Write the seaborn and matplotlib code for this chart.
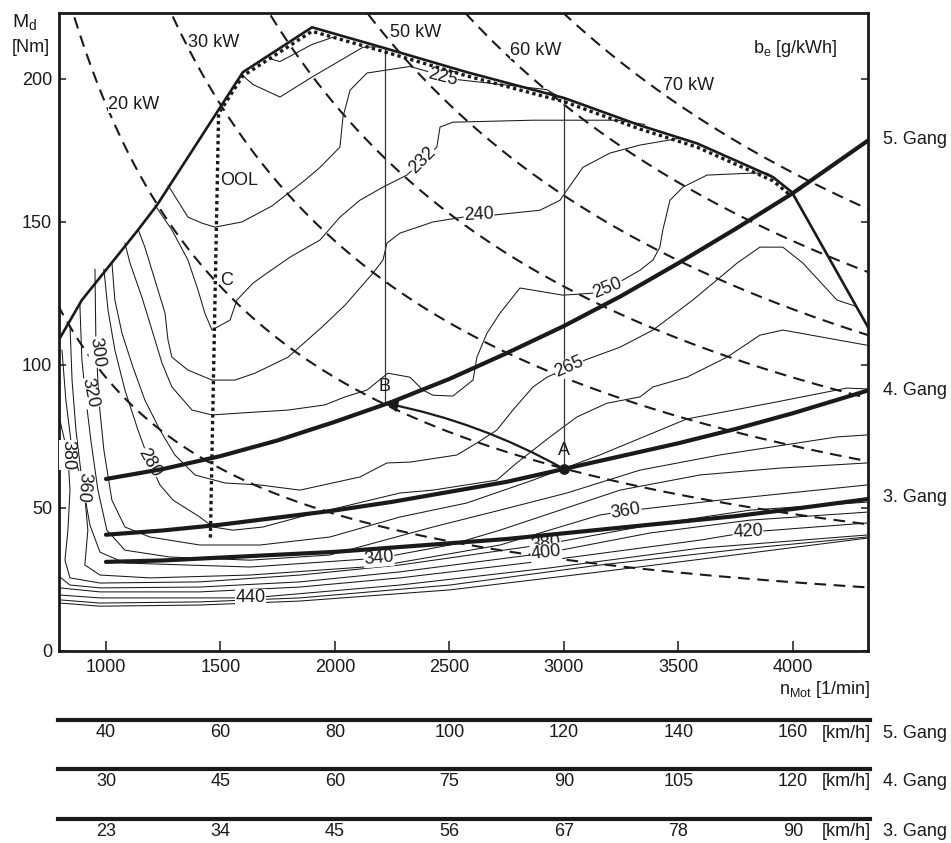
import numpy as np
import matplotlib
matplotlib.use("Agg")
import matplotlib.pyplot as plt
import seaborn as sns
from matplotlib.patches import FancyArrowPatch

sns.set_theme(style="white")
plt.rcParams['font.family'] = ['Liberation Sans', 'DejaVu Sans']
plt.rcParams['mathtext.fontset'] = 'custom'
plt.rcParams['mathtext.rm'] = 'Liberation Sans'
plt.rcParams['mathtext.it'] = 'Liberation Sans'
plt.rcParams['mathtext.bf'] = 'Liberation Sans'

# ---------------- data ----------------
rpm_ticks = [1000, 1500, 2000, 2500, 3000, 3500, 4000]
torque_ticks = [0, 50, 100, 150, 200]
power_kw = [10, 20, 30, 40, 50, 60, 70]
speed_5 = [40, 60, 80, 100, 120, 140, 160]
speed_4 = [30, 45, 60, 75, 90, 105, 120]
speed_3 = [23, 34, 45, 56, 67, 78, 90]

full_n = [799, 895, 1140, 1223, 1598, 1900, 2218, 2576, 3004, 3332, 3581, 3913, 3996, 4328]
full_M = [109.3, 122.6, 147.1, 155.8, 202.3, 218.0, 210.7, 202.3, 193.2, 183.7, 177.4, 165.6, 160.3, 113.1]

ool_n = [1456, 1492, 1598, 1900, 2218, 2576, 3004, 3332, 3581, 3913, 3985]
ool_M = [39.5, 187.8, 201.0, 216.6, 209.4, 201.0, 191.9, 182.4, 176.1, 164.3, 159.5]

gear_n = [1000, 1250, 1500, 1750, 2000, 2250, 2500, 2750, 3000, 3250, 3500, 3750, 4000, 4330]
gear5_M = [60.0, 63.5, 68.0, 73.5, 80.0, 87.0, 95.0, 104.0, 113.5, 124.0, 135.5, 147.5, 160.0, 178.5]
gear4_M = [40.5, 42.0, 44.0, 46.5, 49.0, 52.0, 55.5, 59.0, 63.5, 68.0, 72.5, 77.5, 83.0, 91.0]
gear3_M = [31.0, 31.5, 32.5, 33.5, 34.5, 36.0, 37.5, 39.0, 41.0, 43.0, 45.0, 47.0, 49.5, 53.0]

# operating points A (5th->4th gear) and B
point_A = (3000, 63.5)
point_B = (2218, 86.5)
vert_A_M = [63.5, 193.2]
vert_B_M = [86.5, 210.7]

# specific fuel consumption iso-lines b_e [g/kWh]
t1_n = [1716, 1760, 1900, 1991]
t1_M = [207.0, 206.0, 212.0, 214.5]
t2_n = [1598, 1642, 1760, 1900, 2122, 2196]
t2_M = [201.0, 198.0, 193.6, 200.6, 211.0, 211.2]
c225_n = [1271, 1358, 1419, 1476, 1594, 1725, 1869, 1935, 2022, 2035, 2066, 2140, 2328, 2524, 2926, 2983]
c225_M = [162.8, 151.6, 149.5, 148.1, 149.9, 155.5, 164.5, 169.0, 176.1, 186.6, 196.0, 202.0, 204.3, 199.8, 196.2, 193.5]
c232_n = [1214, 1288, 1358, 1402, 1432, 1463, 1542, 1572, 1642, 1703, 1804, 1935, 2022, 2109, 2210, 2314, 2445, 2459, 2515, 2865, 3232, 3354]
c232_M = [155.8, 147.1, 136.6, 126.1, 118.0, 112.1, 115.6, 122.6, 128.5, 132.0, 137.6, 143.6, 151.6, 157.5, 162.1, 166.3, 176.1, 183.1, 184.8, 185.5, 185.5, 184.0]
c240_n = [1140, 1170, 1214, 1258, 1271, 1288, 1358, 1463, 1563, 1651, 1795, 1943, 2044, 2166, 2210, 2227, 2284, 2428, 2559, 2690, 2895, 2983, 3013, 3083, 3201, 3332, 3507, 3594]
c240_M = [147.4, 141.1, 129.6, 118.0, 108.6, 102.6, 98.1, 94.6, 94.6, 97.0, 102.6, 113.1, 120.8, 132.0, 136.6, 142.5, 146.0, 149.9, 151.6, 152.3, 154.0, 157.5, 161.0, 169.0, 174.0, 176.8, 179.2, 177.0]
c250_n = [1083, 1105, 1157, 1201, 1245, 1288, 1376, 1463, 1594, 1795, 1956, 2044, 2140, 2231, 2328, 2384, 2428, 2515, 2603, 2620, 2664, 2721, 2808, 2996, 3127, 3258, 3332, 3389, 3419, 3432, 3463, 3520, 3625, 3825, 3887, 3922]
c250_M = [142.5, 135.5, 123.6, 112.1, 100.5, 92.2, 84.1, 82.4, 83.1, 84.1, 85.9, 88.7, 91.1, 97.0, 95.6, 91.1, 89.3, 89.0, 94.6, 102.6, 111.0, 118.0, 126.8, 124.3, 125.0, 129.6, 133.0, 136.6, 141.1, 147.1, 157.5, 162.1, 166.3, 167.0, 167.0, 165.2]
c265_n = [1026, 1039, 1070, 1118, 1170, 1236, 1301, 1389, 1520, 1673, 1847, 2109, 2227, 2328, 2533, 2620, 2707, 2777, 2865, 2926, 3092, 3245, 3389, 3563, 3756, 3856, 3956, 4044, 4192, 4271]
c265_M = [135.8, 122.6, 111.0, 99.1, 87.6, 77.1, 68.4, 61.4, 58.6, 57.9, 56.1, 60.7, 65.6, 65.9, 68.4, 72.6, 77.1, 84.1, 92.2, 95.6, 101.6, 106.1, 112.1, 122.6, 135.5, 141.1, 141.1, 135.5, 122.6, 120.5]
c280_n = [991, 1009, 1039, 1083, 1140, 1192, 1236, 1293, 1410, 1467, 1555, 1686, 1847, 2284, 2428, 2707, 2794, 2939, 3057, 3188, 3332, 3389, 3537, 3712, 3856, 3956, 4323]
c280_M = [133.4, 119.1, 105.1, 91.1, 77.1, 65.6, 57.9, 52.6, 46.7, 43.2, 42.1, 43.2, 46.7, 55.1, 56.1, 59.6, 65.6, 74.7, 81.7, 86.5, 88.7, 92.2, 95.6, 102.6, 110.3, 112.1, 106.8]
c300_n = [952, 956, 969, 991, 1026, 1083, 1192, 1410, 1673, 1978, 2284, 2576, 2865, 3157, 3537, 3900, 4236, 4323]
c300_M = [133.4, 108.6, 87.6, 70.1, 52.6, 43.2, 39.7, 36.9, 36.9, 39.7, 46.7, 51.6, 59.6, 68.4, 81.0, 86.5, 91.8, 91.5]
c320_n = [886, 895, 913, 934, 965, 1004, 1083, 1279, 1629, 1978, 2428, 2721, 3013, 3332, 3681, 4192, 4323]
c320_M = [121.2, 101.6, 87.6, 73.6, 56.1, 42.1, 35.1, 32.7, 31.6, 33.4, 43.2, 49.1, 55.1, 63.1, 68.4, 74.7, 75.4]
c340_n = [843, 852, 869, 895, 930, 974, 1083, 1629, 2192, 2502, 2721, 2983, 3245, 3594, 3943, 4323]
c340_M = [113.8, 94.6, 77.1, 59.6, 43.9, 34.4, 30.6, 29.2, 32.3, 36.9, 42.1, 49.1, 56.1, 61.4, 63.8, 65.6]
c360_n = [808, 825, 852, 904, 921, 908, 974, 1192, 1629, 2197, 2721, 3157, 3271, 3681, 4323]
c360_M = [105.1, 87.6, 70.1, 57.2, 42.1, 29.9, 26.4, 25.4, 26.4, 29.6, 36.9, 47.4, 48.8, 52.6, 57.9]
c380_n = [799, 834, 843, 834, 821, 843, 974, 1410, 1847, 2284, 2921, 3376, 3812, 4323]
c380_M = [80.6, 68.4, 56.1, 42.1, 31.6, 25.4, 23.6, 24.0, 26.4, 29.9, 37.2, 43.9, 49.1, 51.9]
c400_n = [799, 843, 974, 1410, 1847, 2284, 2921, 3376, 3812, 4323]
c400_M = [25.7, 22.9, 21.9, 22.2, 24.0, 27.5, 34.1, 41.1, 45.6, 48.4]
c420_n = [799, 974, 1410, 1847, 2284, 2939, 3594, 3804, 4323]
c420_M = [21.9, 20.5, 20.5, 22.2, 25.4, 31.6, 38.6, 41.4, 44.6]
c440_n = [799, 974, 1410, 1633, 2284, 2939, 3594, 4323]
c440_M = [19.4, 18.4, 18.4, 18.4, 22.9, 28.9, 35.8, 40.4]
c460_n = [799, 974, 1410, 1847, 2502, 3157, 3812, 4323]
c460_M = [17.7, 16.6, 17.0, 18.4, 22.9, 29.9, 35.8, 39.7]
c480_n = [799, 974, 1410, 1847, 2502, 3157, 3812, 4323]
c480_M = [16.6, 15.5, 15.9, 17.3, 21.2, 27.5, 34.1, 39.3]

# contour labels: text, n, M, rotation
label_text = ["225", "232", "240", "250", "265", "280", "300", "320", "340", "360", "360", "380", "380", "400", "420", "440"]
label_n = [2470, 2384, 2629, 3192, 3022, 1192, 961, 930, 2192, 3271, 904, 834, 2921, 2921, 3804, 1633]
label_M = [200.6, 171.5, 152.3, 126.8, 99.1, 65.6, 104.4, 90.1, 32.3, 48.8, 57.2, 68.4, 37.2, 34.1, 41.4, 18.4]
label_rot = [-14, 45, 3, 22, 24, -60, -82, -78, 5, 9, -95, -90, 7, 7, 3, 0]

kw_text = ["20 kW", "30 kW", "50 kW", "60 kW", "70 kW"]
kw_n = [1009, 1358, 2240, 2764, 3432]
kw_M = [191.0, 212.8, 216.3, 210.0, 197.8]

# ---------------- figure ----------------
W, H = 951, 843
fig = plt.figure(figsize=(W / 100, H / 100), dpi=100)
ax = fig.add_axes([59 / W, 1 - 650.5 / H, 809 / W, 637.5 / H])
ax.set_xlim(795, 4328)
ax.set_ylim(0, 223)

black = "#1a1a1a"
FS = 13

# power hyperbolas (constant power)
n_grid = np.linspace(790, 4340, 400)
for P in power_kw:
    M = P * 9549.3 / n_grid
    ax.plot(n_grid, M, color=black, lw=1.5, ls=(0, (5.6, 3.6)), dash_capstyle='butt', zorder=2)

# bsfc contour lines
contours = [(t1_n, t1_M), (t2_n, t2_M), (c225_n, c225_M), (c232_n, c232_M), (c240_n, c240_M),
            (c250_n, c250_M), (c265_n, c265_M), (c280_n, c280_M), (c300_n, c300_M),
            (c320_n, c320_M), (c340_n, c340_M), (c360_n, c360_M), (c380_n, c380_M),
            (c400_n, c400_M), (c420_n, c420_M), (c440_n, c440_M), (c460_n, c460_M),
            (c480_n, c480_M)]
for cn, cm in contours:
    sns.lineplot(x=cn, y=cm, sort=False, estimator=None, color=black, lw=0.75, ax=ax, zorder=3)

# vertical thin lines at A and B
sns.lineplot(x=[point_A[0]] * 2, y=vert_A_M, sort=False, estimator=None, color="#333333", lw=0.9, ax=ax, zorder=3)
sns.lineplot(x=[point_B[0]] * 2, y=vert_B_M, sort=False, estimator=None, color="#333333", lw=0.9, ax=ax, zorder=3)

# contour labels (white boxes interrupt the thin lines)
for t, xn, ym, r in zip(label_text, label_n, label_M, label_rot):
    ax.text(xn, ym, t, fontsize=FS, rotation=r, rotation_mode='anchor', ha='center', va='center',
            color=black, zorder=4,
            bbox=dict(facecolor='white', edgecolor='none', pad=0.2))

for t, xn, ym in zip(kw_text, kw_n, kw_M):
    ax.text(xn, ym, t, fontsize=FS, ha='left', va='center', color=black, zorder=4,
            bbox=dict(facecolor='white', edgecolor='none', pad=0.2))

# full load curve
sns.lineplot(x=full_n, y=full_M, sort=False, estimator=None, color=black, lw=1.9, ax=ax, zorder=6)
# optimal operating line (dotted)
ax.plot(ool_n, ool_M, color=black, lw=2.4, ls=(0, (1, 1)), dash_capstyle='butt', zorder=7)

# gear running resistance curves
for gm in (gear5_M, gear4_M, gear3_M):
    sns.lineplot(x=gear_n, y=gm, sort=False, estimator=None, color=black, lw=3.0, ax=ax, zorder=6)

# A/B/C/OOL
ax.scatter([point_A[0]], [point_A[1]], s=45, color=black, zorder=8)
arrow = FancyArrowPatch(posA=point_A, posB=point_B, connectionstyle="arc3,rad=0.08",
                        arrowstyle='-|>', mutation_scale=18, lw=1.6, color=black,
                        shrinkA=0, shrinkB=0, zorder=8)
ax.add_patch(arrow)
ax.text(point_A[0], point_A[1] + 3.5, "A", fontsize=FS, ha='center', va='bottom', color=black, zorder=8)
ax.text(point_B[0], point_B[1] + 3.0, "B", fontsize=FS, ha='center', va='bottom', color=black, zorder=8)
ax.text(1500, 129.5, "C", fontsize=FS, ha='left', va='center', color=black, zorder=8)
ax.text(1500, 164.5, "OOL", fontsize=FS, ha='left', va='center', color=black, zorder=8)
ax.text(4195, 210.5, r"b$_\mathrm{e}$ [g/kWh]", fontsize=FS, ha='right', va='center', color=black)

# axes styling
ax.set_xticks(rpm_ticks)
ax.set_xticklabels([str(v) for v in rpm_ticks], fontsize=FS)
ax.set_yticks(torque_ticks)
ax.set_yticklabels([str(v) for v in torque_ticks], fontsize=FS)
ax.tick_params(axis='x', direction='in', length=7, width=1.1, pad=6, colors=black, labelcolor=black)
ax.tick_params(axis='y', direction='in', length=5, width=1.1, pad=5, right=True, left=True,
               colors=black, labelcolor=black)
ax.tick_params(axis='x', bottom=True, top=False)
for s in ax.spines.values():
    s.set_linewidth(2.0)
    s.set_color(black)
    s.set_visible(True)
ax.set_xlabel("")
ax.set_ylabel("")

# axis titles
fig.text(12 / W, 1 - 22 / H, r"M$_\mathrm{d}$", fontsize=FS + 1, ha='left', va='center', color=black)
fig.text(12 / W, 1 - 47 / H, "[Nm]", fontsize=FS, ha='left', va='center', color=black)
fig.text(870 / W, 1 - 690 / H, r"n$_\mathrm{Mot}$ [1/min]", fontsize=FS, ha='right', va='center', color=black)

# gear labels at right
fig.text(883 / W, 1 - 140 / H, "5. Gang", fontsize=FS, ha='left', va='center', color=black)
fig.text(883 / W, 1 - 390 / H, "4. Gang", fontsize=FS, ha='left', va='center', color=black)
fig.text(883 / W, 1 - 497 / H, "3. Gang", fontsize=FS, ha='left', va='center', color=black)

# speed scales
for y_line, speeds, gname in ((720, speed_5, "5. Gang"), (769, speed_4, "4. Gang"), (819, speed_3, "3. Gang")):
    axs = fig.add_axes([58 / W, 1 - y_line / H, 812 / W, 12 / H])
    axs.set_xlim(790.4, 4336.5)
    axs.set_ylim(0, 1)
    axs.patch.set_alpha(0)
    for k in ('top', 'left', 'right'):
        axs.spines[k].set_visible(False)
    axs.spines['bottom'].set_linewidth(3.0)
    axs.spines['bottom'].set_color(black)
    axs.set_yticks([])
    axs.set_xticks(rpm_ticks)
    axs.set_xticklabels([str(v) for v in speeds], fontsize=FS)
    axs.tick_params(axis='x', direction='in', length=8, width=1.1, pad=3, colors=black, labelcolor=black)
    fig.text(822 / W, 1 - (y_line + 13) / H, "[km/h]", fontsize=FS, ha='left', va='center', color=black)
    fig.text(883 / W, 1 - (y_line + 13) / H, gname, fontsize=FS, ha='left', va='center', color=black)

fig.savefig("out.png", dpi=100, facecolor='white')
